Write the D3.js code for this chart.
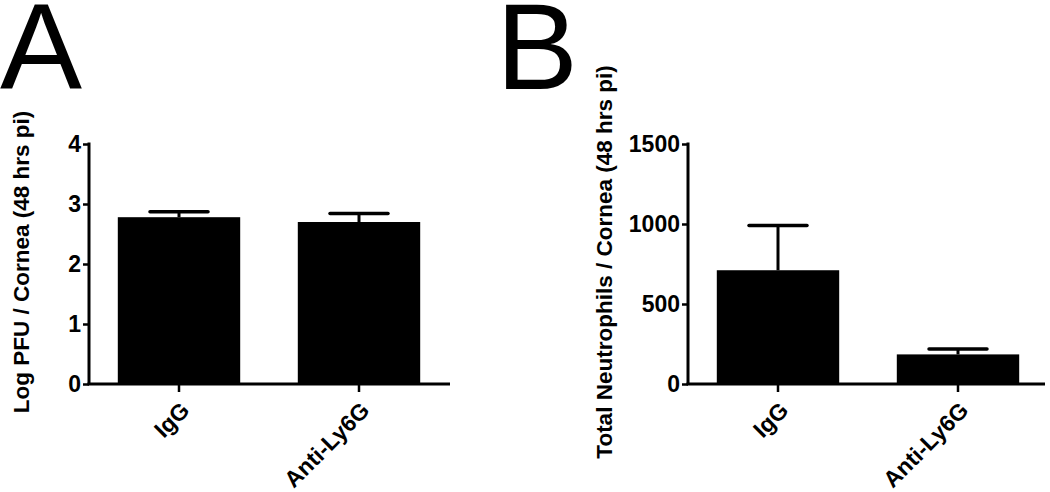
<!DOCTYPE html>
<html>
<head>
<meta charset="utf-8">
<script src="https://cdn.jsdelivr.net/npm/d3@7"></script>
<style>
  html, body { margin: 0; padding: 0; background: #fff; }
  svg { display: block; }
  text { font-family: "Liberation Sans", Arial, sans-serif; fill: #000; }
</style>
</head>
<body>
<svg id="chart" width="1050" height="492"></svg>
<script>
// ---- data ----
const categories = ["IgG", "Anti-Ly6G"];
const pfuMean = [2.78, 2.70];
const pfuSem = [0.09, 0.14];
const neutMean = [711, 185];
const neutSem = [279, 33];
const pfuTicks = [0, 1, 2, 3, 4];
const neutTicks = [0, 500, 1000, 1500];
const panelLetters = ["A", "B"];
const yTitles = ["Log PFU / Cornea (48 hrs pi)", "Total Neutrophils / Cornea (48 hrs pi)"];

const svg = d3.select("#chart");

const panels = [
  { letter: panelLetters[0], letterX: 0, title: yTitles[0], titleX: 29, axisX: 89, xEnd: 450,
    mean: pfuMean, sem: pfuSem, ticks: pfuTicks, yMax: 4 },
  { letter: panelLetters[1], letterX: 496, title: yTitles[1], titleX: 612, axisX: 688, xEnd: 1045,
    mean: neutMean, sem: neutSem, ticks: neutTicks, yMax: 1500 }
];

const yTop = 144, yBottom = 384;

panels.forEach(p => {
  const g = svg.append("g");

  // panel letter
  g.append("text")
    .attr("x", p.letterX).attr("y", 89)
    .attr("font-size", 123)
    .text(p.letter);

  const x = d3.scaleBand()
    .domain(categories)
    .range([p.axisX, p.axisX + 360])
    .paddingInner(0.32)
    .paddingOuter(0.16);

  const y = d3.scaleLinear().domain([0, p.yMax]).range([yBottom, yTop]);

  const data = categories.map((c, i) => ({ c, m: p.mean[i], e: p.sem[i] }));

  // bars
  g.selectAll("rect.bar").data(data).enter().append("rect")
    .attr("class", "bar")
    .attr("x", d => x(d.c))
    .attr("width", x.bandwidth())
    .attr("y", d => y(d.m))
    .attr("height", d => y(0) - y(d.m))
    .attr("fill", "#000");

  // error bars
  const capW = 58;
  g.selectAll("line.err").data(data).enter().append("line")
    .attr("x1", d => x(d.c) + x.bandwidth() / 2)
    .attr("x2", d => x(d.c) + x.bandwidth() / 2)
    .attr("y1", d => y(d.m))
    .attr("y2", d => y(d.m + d.e))
    .attr("stroke", "#000").attr("stroke-width", 3);
  g.selectAll("line.cap").data(data).enter().append("line")
    .attr("x1", d => x(d.c) + x.bandwidth() / 2 - capW / 2)
    .attr("x2", d => x(d.c) + x.bandwidth() / 2 + capW / 2)
    .attr("y1", d => y(d.m + d.e))
    .attr("y2", d => y(d.m + d.e))
    .attr("stroke", "#000").attr("stroke-width", 3.5)
    .attr("stroke-linecap", "round");

  // y axis
  const yAxis = g.append("g")
    .attr("transform", `translate(${p.axisX},0)`)
    .call(d3.axisLeft(y).tickValues(p.ticks).tickSize(6).tickSizeOuter(0).tickPadding(2).tickFormat(d3.format("d")));
  yAxis.select(".domain").remove();
  yAxis.selectAll(".tick line").attr("stroke", "#000").attr("stroke-width", 2.5);
  yAxis.selectAll(".tick text")
    .attr("font-size", 23).attr("font-weight", "bold")
    .attr("font-family", "Liberation Sans, Arial, sans-serif")
    .attr("fill", "#000");
  g.append("line")
    .attr("x1", p.axisX).attr("x2", p.axisX)
    .attr("y1", yTop - 1.5).attr("y2", yBottom)
    .attr("stroke", "#000").attr("stroke-width", 3);

  // x axis
  const xAxis = g.append("g")
    .attr("transform", `translate(0,${yBottom})`)
    .call(d3.axisBottom(x).tickSize(8).tickSizeOuter(0).tickPadding(6));
  xAxis.select(".domain").remove();
  xAxis.selectAll(".tick line").attr("stroke", "#000").attr("stroke-width", 2.5);
  xAxis.selectAll(".tick text")
    .attr("font-size", 23).attr("font-weight", "bold")
    .attr("font-family", "Liberation Sans, Arial, sans-serif")
    .attr("fill", "#000")
    .attr("text-anchor", "end")
    .attr("dy", null)
    .attr("transform", "translate(2,18) rotate(-45)");
  g.append("line")
    .attr("x1", p.axisX - 1.5).attr("x2", p.xEnd)
    .attr("y1", yBottom).attr("y2", yBottom)
    .attr("stroke", "#000").attr("stroke-width", 3);

  // y title
  g.append("text")
    .attr("transform", `translate(${p.titleX},${(yTop + yBottom) / 2 - 2}) rotate(-90)`)
    .attr("text-anchor", "middle")
    .attr("font-size", 22.5).attr("font-weight", "bold")
    .text(p.title);
});
</script>
</body>
</html>
